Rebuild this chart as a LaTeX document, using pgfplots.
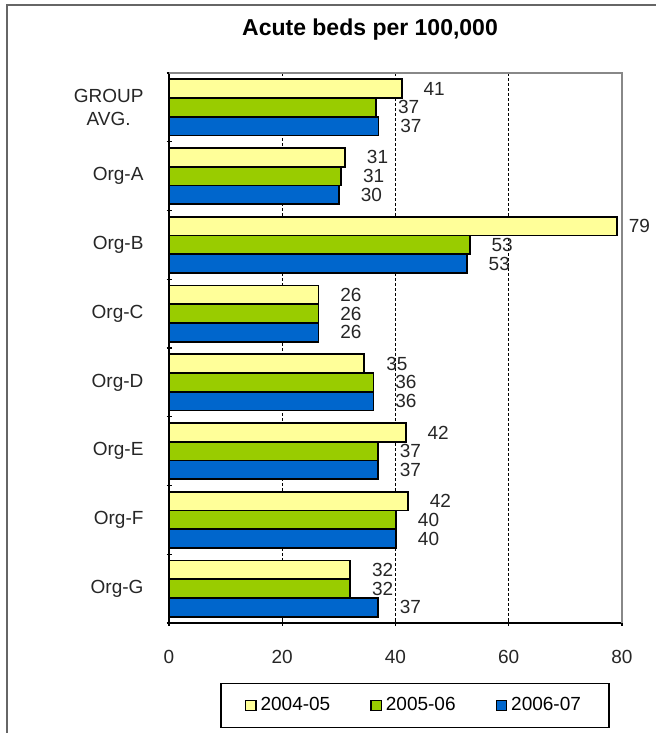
\documentclass[border=0pt]{standalone}
\usepackage{pgfplots}
\pgfplotsset{compat=1.18}
\usepackage{fontspec}
\setmainfont{Liberation Sans}
\definecolor{cyel}{HTML}{FFFF99}
\definecolor{cgrn}{HTML}{99CC00}
\definecolor{cblu}{HTML}{0066CC}
\definecolor{frame}{HTML}{666666}
\definecolor{pgrey}{HTML}{888888}
\begin{document}
\begin{tikzpicture}
\path[use as bounding box] (0pt,0pt) rectangle (328pt,-366.5pt);
\draw[frame, line width=1pt] (3.5pt,-366.5pt) -- (3.5pt,-2.5pt) -- (328pt,-2.5pt);
\node[font=\bfseries\fontsize{11.5}{13}\selectfont] at (185pt,-15pt) {Acute beds per 100,000};
\begin{axis}[
  at={(84.5pt,-311.5pt)}, anchor=south west,
  scale only axis, width=226.5pt, height=275pt,
  xbar, bar width=0.272,
  xmin=0, xmax=80, xtick={0,20,40,60,80},
  ymin=-0.5, ymax=7.5, y dir=reverse,
  ytick={0,1,2,3,4,5,6,7},
  yticklabels={{GROUP\\AVG.},Org-A,Org-B,Org-C,Org-D,Org-E,Org-F,Org-G},
  minor ytick={-0.5,0.5,1.5,2.5,3.5,4.5,5.5,6.5,7.5},
  major tick length=2.5pt, minor tick length=2.5pt,
  ytick style={draw=none}, minor y tick style={draw=black, line width=0.6pt},
  xtick style={black, line width=0.6pt},
  tick align=outside,
  axis lines=left, axis line style={-, black, line width=0.9pt},
  xmajorgrids, major grid style={black, line width=0.5pt, dash pattern=on 1.5pt off 1pt},
  /pgf/number format/assume math mode=true,
  ticklabel style={font=\fontsize{9.5}{11.5}\selectfont, text=black!85},
  yticklabel style={align=center, xshift=-8pt},
  xticklabel style={yshift=-9pt},
  clip=false,
  point meta=explicit symbolic,
  visualization depends on={x \as \rawx},
  nodes near coords,
  nodes near coords style={anchor=west, inner sep=0pt, xshift={(\rawx>70?5.5:10.5)*1pt}, font=\fontsize{9.5}{11.5}\selectfont, text=black!85},
  legend columns=3,
  legend style={at={(0.543,-0.15)}, anchor=center, draw=black, line width=0.6pt,
    font=\fontsize{9.5}{11.5}\selectfont, inner xsep=12pt, inner ysep=5pt,
    /tikz/every even column/.append style={column sep=18pt}},
  legend image code/.code={\draw[#1, draw=black, line width=0.6pt] (0pt,-2.6pt) rectangle (5.2pt,2.6pt);},
]
\addplot[fill=cyel, draw=black, line width=0.9pt, bar shift=-0.272] coordinates {
 (41.1,0) [41] (31.1,1) [31] (79.1,2) [79] (26.4,3) [26]
 (34.5,4) [35] (41.8,5) [42] (42.2,6) [42] (32.0,7) [32]};
\addplot[fill=cgrn, draw=black, line width=0.9pt, bar shift=0] coordinates {
 (36.6,0) [37] (30.4,1) [31] (53.1,2) [53] (26.4,3) [26]
 (36.1,4) [36] (36.9,5) [37] (40.1,6) [40] (32.0,7) [32]};
\addplot[fill=cblu, draw=black, line width=0.9pt, bar shift=0.272] coordinates {
 (37.0,0) [37] (30.0,1) [30] (52.6,2) [53] (26.4,3) [26]
 (36.1,4) [36] (36.9,5) [37] (40.1,6) [40] (36.9,7) [37]};
\legend{2004-05,2005-06,2006-07}
\draw[pgrey, line width=1pt] (rel axis cs:0,1) -- (rel axis cs:1,1) -- (rel axis cs:1,0);
\end{axis}
\end{tikzpicture}
\end{document}
